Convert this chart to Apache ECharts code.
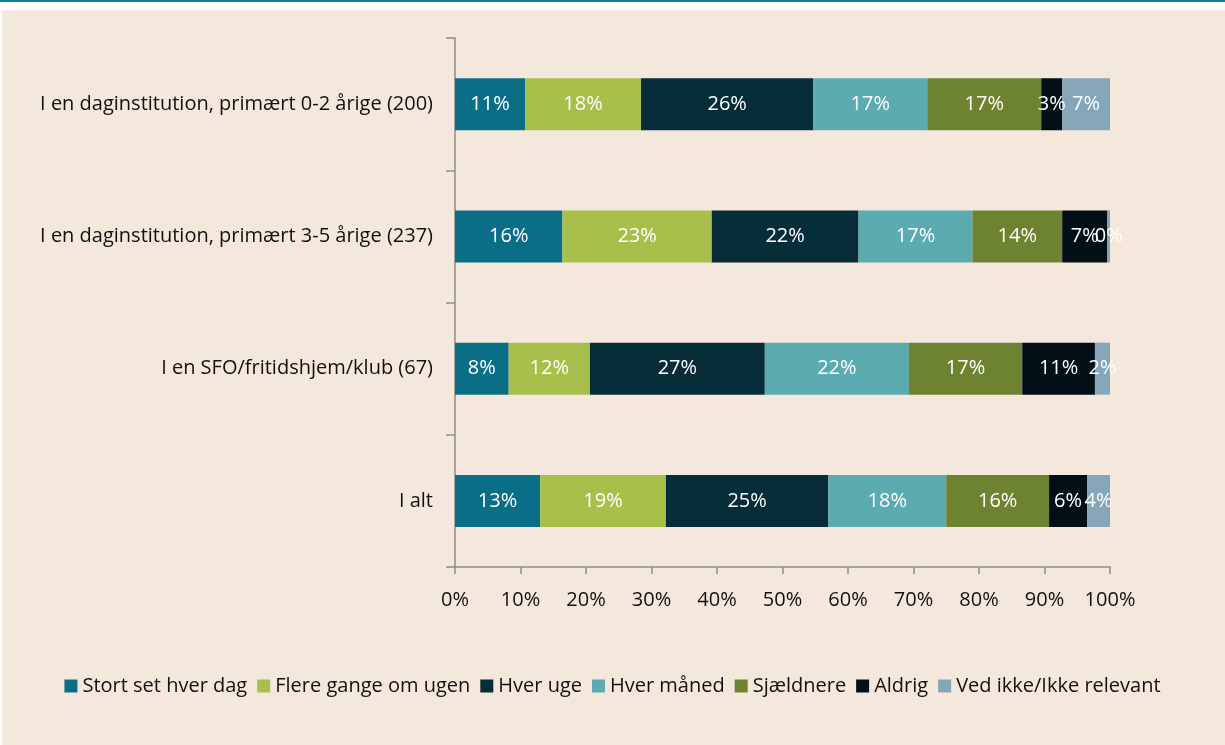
<!DOCTYPE html>
<html>
<head>
<meta charset="utf-8">
<script src="https://cdn.jsdelivr.net/npm/echarts@6/dist/echarts.min.js"></script>
<style>
  html, body { margin: 0; padding: 0; background: #ffffff; }
  #topline { position: absolute; left: 0; top: 0; width: 1225px; height: 2px; background: #0c7f99; }
  #panel { position: absolute; left: 2px; top: 10px; width: 1223px; height: 735px; background: #f4e8dc; }
  #chart { position: absolute; left: 0; top: 0; width: 1225px; height: 745px; }
</style>
</head>
<body>
<div id="topline"></div>
<div id="panel"></div>
<div id="chart"></div>
<script>
// kategorier (y-akse), oppefra og ned
const categories = [
  'I en daginstitution, primært 0-2 årige (200)',
  'I en daginstitution, primært 3-5 årige (237)',
  'I en SFO/fritidshjem/klub (67)',
  'I alt'
];
const seriesNames = ['Stort set hver dag', 'Flere gange om ugen', 'Hver uge', 'Hver måned', 'Sjældnere', 'Aldrig', 'Ved ikke/Ikke relevant'];
const colors = ['#0b6e87', '#a8bf4c', '#062d38', '#5cabb0', '#6e8332', '#020f16', '#84a6b8'];

// procent pr. svarkategori, i samme rækkefølge som categories
const stortSet   = [10.7, 16.4, 8.2, 13.0];
const flereGange = [17.7, 22.8, 12.4, 19.2];
const hverUge    = [26.3, 22.4, 26.7, 24.8];
const hverMaaned = [17.4, 17.4, 22.0, 18.0];
const sjaeldnere = [17.4, 13.7, 17.3, 15.7];
const aldrig     = [3.2, 6.9, 11.1, 5.8];
const vedIkke    = [7.3, 0.4, 2.3, 3.5];

const xTicks = [0, 10, 20, 30, 40, 50, 60, 70, 80, 90, 100];

const allData = [stortSet, flereGange, hverUge, hverMaaned, sjaeldnere, aldrig, vedIkke];
const font = 'Open Sans';
const fs = 20;

const chart = echarts.init(document.getElementById('chart'));
chart.setOption({
  backgroundColor: 'transparent',
  animation: false,
  textStyle: { fontFamily: font },
  grid: { left: 455, right: 115, top: 38, bottom: 178, containLabel: false },
  legend: {
    top: 671,
    left: 'center',
    itemWidth: 13,
    itemHeight: 13,
    itemGap: 10,
    icon: 'rect',
    textStyle: { fontSize: fs, color: '#111111', fontFamily: font },
    data: seriesNames
  },
  xAxis: {
    type: 'value',
    min: xTicks[0],
    max: xTicks[xTicks.length - 1],
    interval: 10,
    splitLine: { show: false },
    axisLine: { show: true, lineStyle: { color: '#8c8c8c', width: 1.5 } },
    axisTick: { show: true, length: 7, lineStyle: { color: '#8c8c8c', width: 1.5 } },
    axisLabel: { formatter: '{value}%', fontSize: fs, color: '#111111', margin: 23 }
  },
  yAxis: {
    type: 'category',
    inverse: true,
    data: categories,
    axisLine: { show: true, lineStyle: { color: '#8c8c8c', width: 1.5 } },
    axisTick: { show: true, length: 9, lineStyle: { color: '#8c8c8c', width: 1.5 } },
    axisLabel: { fontSize: fs, color: '#111111', margin: 22 }
  },
  series: seriesNames.map((name, i) => ({
    name: name,
    type: 'bar',
    stack: 'total',
    barWidth: 52,
    data: allData[i],
    itemStyle: { color: colors[i] },
    label: {
      show: true,
      position: 'inside',
      color: '#ffffff',
      fontSize: fs,
      fontFamily: font,
      formatter: p => Math.round(p.value) + '%'
    }
  }))
});
</script>
</body>
</html>
